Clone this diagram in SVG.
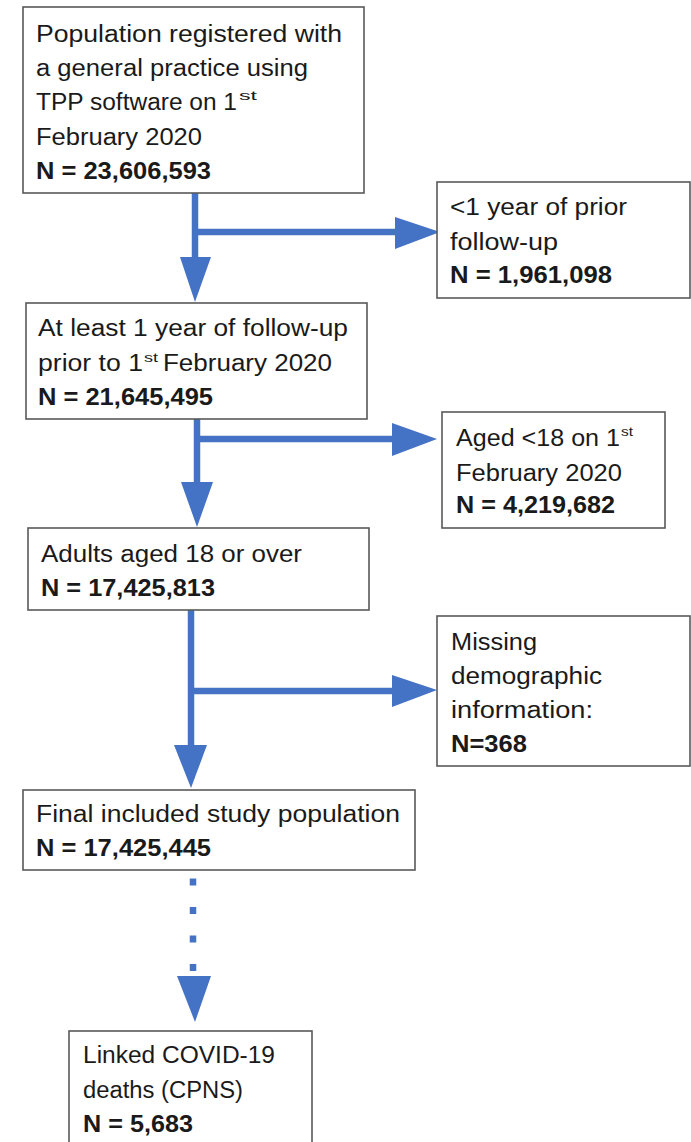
<svg xmlns="http://www.w3.org/2000/svg" width="691" height="1142" viewBox="0 0 691 1142">
<style>
.box{fill:#fff;stroke:#595959;stroke-width:1.6}
text{font-family:"Liberation Sans",Arial,sans-serif;font-size:23px;fill:#1a1a1a}
.b{font-weight:bold}
.sup{font-size:13px}
.ln{stroke:#4472C4;stroke-width:6.5;fill:none}
.hd{fill:#4472C4}
</style>
<rect width="691" height="1142" fill="#fff"/>
<g id="connectors">
<line class="ln" x1="195" y1="193" x2="195" y2="260"/>
<line class="ln" x1="195" y1="232" x2="397" y2="232"/>
<polygon class="hd" points="395,217 440,232 395,249"/>
<polygon class="hd" points="180,257 211,257 195,302"/>
<line class="ln" x1="197" y1="419" x2="197" y2="484"/>
<line class="ln" x1="197" y1="439" x2="394" y2="439"/>
<polygon class="hd" points="392,423 437,439 392,456"/>
<polygon class="hd" points="181,482 213,482 197,527"/>
<line class="ln" x1="191" y1="610" x2="191" y2="747"/>
<line class="ln" x1="191" y1="691" x2="394" y2="691"/>
<polygon class="hd" points="392,675 437,690 392,707"/>
<polygon class="hd" points="174,745 207,745 191,788"/>
<line class="ln" x1="193" y1="878.5" x2="193" y2="972" stroke-width="7" stroke-dasharray="7 21.5"/>
<polygon class="hd" points="177,976 211,976 195,1022"/>
</g>
<g id="n1">
<rect class="box" x="23" y="7" width="341" height="186"/>
<text x="36" y="42" textLength="306" lengthAdjust="spacingAndGlyphs">Population registered with</text>
<text x="36" y="76" textLength="272" lengthAdjust="spacingAndGlyphs">a general practice using</text>
<text x="36" y="110" textLength="201" lengthAdjust="spacingAndGlyphs">TPP software on 1</text>
<text class="sup" x="239" y="100" textLength="18" lengthAdjust="spacingAndGlyphs">st</text>
<text x="36" y="145" textLength="166" lengthAdjust="spacingAndGlyphs">February 2020</text>
<text class="b" x="36" y="179" textLength="175" lengthAdjust="spacingAndGlyphs">N = 23,606,593</text>
</g>
<g id="n2">
<rect class="box" x="437" y="182" width="253" height="116"/>
<text x="450" y="215" textLength="177" lengthAdjust="spacingAndGlyphs">&lt;1 year of prior</text>
<text x="450" y="250" textLength="108" lengthAdjust="spacingAndGlyphs">follow-up</text>
<text class="b" x="450" y="283" textLength="162" lengthAdjust="spacingAndGlyphs">N = 1,961,098</text>
</g>
<g id="n3">
<rect class="box" x="26" y="303" width="341" height="116"/>
<text x="38" y="336" textLength="310" lengthAdjust="spacingAndGlyphs">At least 1 year of follow-up</text>
<text x="38" y="371" textLength="105" lengthAdjust="spacingAndGlyphs">prior to 1</text>
<text class="sup" x="144" y="362" textLength="14" lengthAdjust="spacingAndGlyphs">st</text>
<text x="163" y="371" textLength="169" lengthAdjust="spacingAndGlyphs">February 2020</text>
<text class="b" x="38" y="405" textLength="175" lengthAdjust="spacingAndGlyphs">N = 21,645,495</text>
</g>
<g id="n4">
<rect class="box" x="442" y="412" width="223" height="116"/>
<text x="456" y="446" textLength="164" lengthAdjust="spacingAndGlyphs">Aged &lt;18 on 1</text>
<text class="sup" x="621" y="436" textLength="12" lengthAdjust="spacingAndGlyphs">st</text>
<text x="456" y="481" textLength="166" lengthAdjust="spacingAndGlyphs">February 2020</text>
<text class="b" x="456" y="513" textLength="159" lengthAdjust="spacingAndGlyphs">N = 4,219,682</text>
</g>
<g id="n5">
<rect class="box" x="28" y="528" width="341" height="82"/>
<text x="41" y="562" textLength="261" lengthAdjust="spacingAndGlyphs">Adults aged 18 or over</text>
<text class="b" x="41" y="596" textLength="174" lengthAdjust="spacingAndGlyphs">N = 17,425,813</text>
</g>
<g id="n6">
<rect class="box" x="437" y="616" width="253" height="150"/>
<text x="451" y="650" textLength="86" lengthAdjust="spacingAndGlyphs">Missing</text>
<text x="451" y="684" textLength="151" lengthAdjust="spacingAndGlyphs">demographic</text>
<text x="451" y="718" textLength="142" lengthAdjust="spacingAndGlyphs">information:</text>
<text class="b" x="451" y="752" textLength="76" lengthAdjust="spacingAndGlyphs">N=368</text>
</g>
<g id="n7">
<rect class="box" x="23" y="790" width="392" height="80"/>
<text x="36" y="822" textLength="364" lengthAdjust="spacingAndGlyphs">Final included study population</text>
<text class="b" x="36" y="856" textLength="175" lengthAdjust="spacingAndGlyphs">N = 17,425,445</text>
</g>
<g id="n8">
<rect class="box" x="69" y="1031" width="243" height="125"/>
<text x="83" y="1063" textLength="192" lengthAdjust="spacingAndGlyphs">Linked COVID-19</text>
<text x="83" y="1098" textLength="160" lengthAdjust="spacingAndGlyphs">deaths (CPNS)</text>
<text class="b" x="83" y="1132" textLength="110" lengthAdjust="spacingAndGlyphs">N = 5,683</text>
</g>
</svg>
